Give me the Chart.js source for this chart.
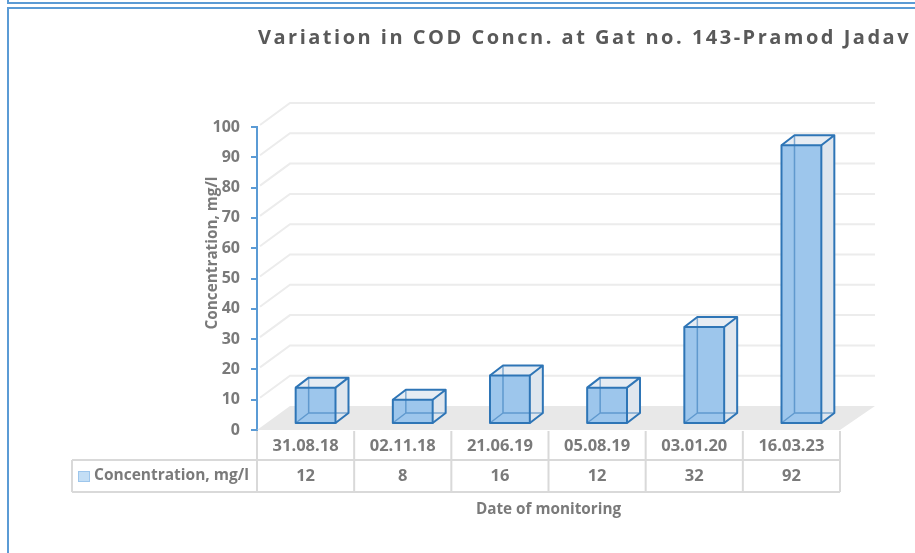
<!DOCTYPE html>
<html>
<head>
<meta charset="utf-8">
<script src="https://cdn.jsdelivr.net/npm/chart.js@4"></script>
<style>
  html, body { margin: 0; padding: 0; background: #fff; }
  #wrap { position: relative; width: 915px; height: 553px; overflow: hidden; }
  #topFrame { position: absolute; left: 7px; top: -4px; width: 940px; height: 6px;
    border-left: 2px solid #5b9bd5; border-bottom: 2px solid #5b9bd5; }
  #mainFrame { position: absolute; left: 7px; top: 7px; width: 940px; height: 600px;
    border-left: 2px solid #5b9bd5; border-top: 2px solid #5b9bd5; }
  canvas { position: absolute; left: 0; top: 0; }
</style>
</head>
<body>
<div id="wrap">
  <div id="topFrame"></div>
  <div id="mainFrame"></div>
  <canvas id="codChart" width="915" height="553"></canvas>
</div>
<script>
// Datos
const fechas   = ['31.08.18', '02.11.18', '21.06.19', '05.08.19', '03.01.20', '16.03.23'];
const valores  = [12, 8, 16, 12, 32, 92];
const serie    = 'Concentration, mg/l';
const titulo   = 'Variation in COD Concn. at Gat no. 143-Pramod Jadav';
const tituloX  = 'Date of monitoring';
const tituloY  = 'Concentration, mg/l';

// Estilo
const FONT   = '"Open Sans", Lato, sans-serif';
const GRIS   = '#7a7a7a';
const AZUL   = '#2e75b6';
const DEPTH  = { x: 33, y: -24 };   // fondo de la pared
const BAR_D  = { x: 13, y: -10 };   // profundidad de cada barra
const SHIFT  = { x: 10, y: -6 };    // barra centrada en la profundidad

/**
 * Pared trasera, piso y rejilla en perspectiva
 */
const wall3d = {
  id: 'wall3d',
  beforeDatasetsDraw(chart) {
    const { ctx, chartArea: a, scales: { y } } = chart;
    ctx.save();
    // piso
    ctx.fillStyle = '#e8e8e8';
    ctx.beginPath();
    ctx.moveTo(a.left, a.bottom);
    ctx.lineTo(a.right, a.bottom);
    ctx.lineTo(a.right + DEPTH.x + 2, a.bottom + DEPTH.y);
    ctx.lineTo(a.left + DEPTH.x, a.bottom + DEPTH.y);
    ctx.closePath();
    ctx.fill();
    // rejilla
    ctx.strokeStyle = '#ececec';
    ctx.lineWidth = 2;
    y.ticks.forEach(t => {
      if (t.value === 0) return;
      const py = y.getPixelForValue(t.value);
      ctx.beginPath();
      ctx.moveTo(a.left + 3, py - 2);
      ctx.lineTo(a.left + DEPTH.x, py + DEPTH.y);
      ctx.lineTo(a.right + DEPTH.x + 2, py + DEPTH.y);
      ctx.stroke();
    });
    ctx.restore();
  },

  /**
   * Barras como cajas de vidrio
   */
  afterDatasetsDraw(chart) {
    const { ctx } = chart;
    const meta = chart.getDatasetMeta(0);
    ctx.save();
    ctx.lineJoin = 'round';
    meta.data.forEach(bar => {
      const x0 = bar.x - bar.width / 2 + SHIFT.x, x1 = bar.x + bar.width / 2 + SHIFT.x;
      const top = bar.y + SHIFT.y, bot = bar.base + SHIFT.y;
      const dx = BAR_D.x, dy = BAR_D.y;
      // cara lateral
      ctx.fillStyle = '#dfe6ee';
      ctx.beginPath();
      ctx.moveTo(x1, top); ctx.lineTo(x1 + dx, top + dy);
      ctx.lineTo(x1 + dx, bot + dy); ctx.lineTo(x1, bot);
      ctx.closePath(); ctx.fill();
      // cara superior
      ctx.fillStyle = '#e6ecf3';
      ctx.beginPath();
      ctx.moveTo(x0, top); ctx.lineTo(x0 + dx, top + dy);
      ctx.lineTo(x1 + dx, top + dy); ctx.lineTo(x1, top);
      ctx.closePath(); ctx.fill();
      // cara frontal
      ctx.fillStyle = '#9dc6ec';
      ctx.fillRect(x0, top, x1 - x0, bot - top);
      // aristas traseras (se ven a traves del vidrio)
      ctx.strokeStyle = 'rgba(46,117,182,0.55)';
      ctx.lineWidth = 1.5;
      ctx.beginPath();
      ctx.moveTo(x0 + dx, top + dy); ctx.lineTo(x0 + dx, bot + dy);
      ctx.lineTo(x1 + dx, bot + dy);
      ctx.moveTo(x0, bot); ctx.lineTo(x0 + dx, bot + dy);
      ctx.stroke();
      // contornos
      ctx.strokeStyle = AZUL;
      ctx.lineWidth = 2;
      ctx.strokeRect(x0, top, x1 - x0, bot - top);
      ctx.beginPath();
      ctx.moveTo(x0, top); ctx.lineTo(x0 + dx, top + dy);
      ctx.lineTo(x1 + dx, top + dy); ctx.lineTo(x1 + dx, bot + dy);
      ctx.lineTo(x1, bot);
      ctx.moveTo(x1, top); ctx.lineTo(x1 + dx, top + dy);
      ctx.stroke();
    });
    ctx.restore();
  }
};

/**
 * Tabla de datos, titulos
 */
const tabla = {
  id: 'tabla',
  afterDraw(chart) {
    const { ctx, chartArea: a, scales: { x } } = chart;
    const n = fechas.length;
    const colW = (a.right - a.left) / n;
    const r1 = a.bottom + 30, r2 = a.bottom + 62, legL = 72;
    ctx.save();
    ctx.strokeStyle = '#d9d9d9';
    ctx.lineWidth = 2;
    ctx.beginPath();
    for (let i = 0; i <= n; i++) {
      const px = a.left + i * colW;
      ctx.moveTo(px, a.bottom + 1); ctx.lineTo(px, r2);
    }
    ctx.moveTo(legL, r1); ctx.lineTo(a.right, r1);
    ctx.moveTo(legL, r2); ctx.lineTo(a.right, r2);
    ctx.moveTo(legL, r1); ctx.lineTo(legL, r2);
    ctx.stroke();

    ctx.fillStyle = GRIS;
    ctx.font = `bold 16.5px ${FONT}`;
    ctx.textAlign = 'center';
    ctx.textBaseline = 'middle';
    fechas.forEach((f, i) => {
      const cx = x.getPixelForValue(i);
      ctx.fillText(f, cx, a.bottom + 16);
      ctx.fillText(String(valores[i]), cx, r1 + 16);
    });
    // leyenda
    ctx.fillStyle = '#c3def5';
    ctx.fillRect(78, r1 + 11, 12, 11);
    ctx.strokeStyle = '#9dc6ec';
    ctx.lineWidth = 1;
    ctx.strokeRect(78.5, r1 + 11.5, 11, 10);
    ctx.fillStyle = GRIS;
    ctx.textAlign = 'left';
    ctx.font = `bold 15.5px ${FONT}`;
    ctx.fillText(serie, 94, r1 + 16);
    // eje x
    ctx.textAlign = 'center';
    ctx.font = `bold 15.3px ${FONT}`;
    ctx.fillText(tituloX, (a.left + a.right) / 2, 510);
    // eje y
    ctx.save();
    ctx.translate(213, 253);
    ctx.rotate(-Math.PI / 2);
    ctx.fillText(tituloY, 0, 0);
    ctx.restore();
    // titulo
    ctx.fillStyle = '#595959';
    ctx.font = `bold 20px ${FONT}`;
    ctx.textAlign = 'left';
    ctx.textBaseline = 'alphabetic';
    ctx.letterSpacing = '2.5px';
    ctx.fillText(titulo, 258, 44);
    ctx.restore();
  }
};

new Chart(document.getElementById('codChart'), {
  type: 'bar',
  data: {
    labels: fechas,
    datasets: [{
      label: serie,
      data: valores,
      backgroundColor: 'rgba(0,0,0,0)',
      borderWidth: 0,
      barPercentage: 0.82,
      categoryPercentage: 0.5
    }]
  },
  options: {
    responsive: false,
    animation: false,
    layout: { padding: { top: 127, bottom: 123, right: 75, left: 0 } },
    plugins: { legend: { display: false }, tooltip: { enabled: false } },
    scales: {
      x: { display: false },
      y: {
        min: 0, max: 100,
        afterFit(scale) { scale.width = 257; },
        ticks: { stepSize: 10, color: GRIS, padding: 11, font: { family: FONT, size: 16, weight: 'bold' } },
        grid: { drawOnChartArea: false, drawTicks: true, tickLength: 6, color: '#5b9bd5', lineWidth: 2 },
        border: { display: true, color: '#5b9bd5', width: 2 }
      }
    }
  },
  plugins: [wall3d, tabla]
});
</script>
</body>
</html>
